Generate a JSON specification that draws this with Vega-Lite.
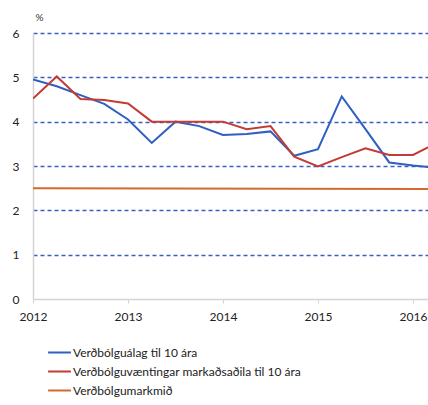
{
  "$schema": "https://vega.github.io/schema/vega-lite/v6.json",
  "autosize": "none",
  "width": 395,
  "height": 266,
  "padding": {"left": 33, "top": 33, "right": 0, "bottom": 106},
  "background": "white",
  "config": {"view": {"stroke": null}, "font": "Lato"},
  "data": {"values": [
    {"t": 2012.0, "s": "Verðbólguálag til 10 ára", "v": 4.95},
    {"t": 2012.25, "s": "Verðbólguálag til 10 ára", "v": 4.8},
    {"t": 2012.5, "s": "Verðbólguálag til 10 ára", "v": 4.6},
    {"t": 2012.75, "s": "Verðbólguálag til 10 ára", "v": 4.4},
    {"t": 2013.0, "s": "Verðbólguálag til 10 ára", "v": 4.05},
    {"t": 2013.25, "s": "Verðbólguálag til 10 ára", "v": 3.52},
    {"t": 2013.5, "s": "Verðbólguálag til 10 ára", "v": 4.0},
    {"t": 2013.75, "s": "Verðbólguálag til 10 ára", "v": 3.9},
    {"t": 2014.0, "s": "Verðbólguálag til 10 ára", "v": 3.7},
    {"t": 2014.25, "s": "Verðbólguálag til 10 ára", "v": 3.72},
    {"t": 2014.5, "s": "Verðbólguálag til 10 ára", "v": 3.78},
    {"t": 2014.75, "s": "Verðbólguálag til 10 ára", "v": 3.23},
    {"t": 2015.0, "s": "Verðbólguálag til 10 ára", "v": 3.38},
    {"t": 2015.25, "s": "Verðbólguálag til 10 ára", "v": 4.57},
    {"t": 2015.5, "s": "Verðbólguálag til 10 ára", "v": 3.83},
    {"t": 2015.75, "s": "Verðbólguálag til 10 ára", "v": 3.08},
    {"t": 2016.0, "s": "Verðbólguálag til 10 ára", "v": 3.01},
    {"t": 2016.25, "s": "Verðbólguálag til 10 ára", "v": 2.96},
    {"t": 2012.0, "s": "Verðbólguvæntingar markaðsaðila til 10 ára", "v": 4.52},
    {"t": 2012.25, "s": "Verðbólguvæntingar markaðsaðila til 10 ára", "v": 5.02},
    {"t": 2012.5, "s": "Verðbólguvæntingar markaðsaðila til 10 ára", "v": 4.51},
    {"t": 2012.75, "s": "Verðbólguvæntingar markaðsaðila til 10 ára", "v": 4.49},
    {"t": 2013.0, "s": "Verðbólguvæntingar markaðsaðila til 10 ára", "v": 4.41},
    {"t": 2013.25, "s": "Verðbólguvæntingar markaðsaðila til 10 ára", "v": 4.0},
    {"t": 2013.5, "s": "Verðbólguvæntingar markaðsaðila til 10 ára", "v": 4.0},
    {"t": 2013.75, "s": "Verðbólguvæntingar markaðsaðila til 10 ára", "v": 4.0},
    {"t": 2014.0, "s": "Verðbólguvæntingar markaðsaðila til 10 ára", "v": 4.0},
    {"t": 2014.25, "s": "Verðbólguvæntingar markaðsaðila til 10 ára", "v": 3.83},
    {"t": 2014.5, "s": "Verðbólguvæntingar markaðsaðila til 10 ára", "v": 3.9},
    {"t": 2014.75, "s": "Verðbólguvæntingar markaðsaðila til 10 ára", "v": 3.21},
    {"t": 2015.0, "s": "Verðbólguvæntingar markaðsaðila til 10 ára", "v": 2.99},
    {"t": 2015.25, "s": "Verðbólguvæntingar markaðsaðila til 10 ára", "v": 3.2},
    {"t": 2015.5, "s": "Verðbólguvæntingar markaðsaðila til 10 ára", "v": 3.4},
    {"t": 2015.75, "s": "Verðbólguvæntingar markaðsaðila til 10 ára", "v": 3.25},
    {"t": 2016.0, "s": "Verðbólguvæntingar markaðsaðila til 10 ára", "v": 3.25},
    {"t": 2016.25, "s": "Verðbólguvæntingar markaðsaðila til 10 ára", "v": 3.52},
    {"t": 2012.0, "s": "Verðbólgumarkmið", "v": 2.5},
    {"t": 2016.25, "s": "Verðbólgumarkmið", "v": 2.48}
  ]},
  "mark": {"type": "line", "clip": true, "strokeWidth": 2},
  "encoding": {
    "x": {
      "field": "t", "type": "quantitative",
      "scale": {"domain": [2012, 2016.158], "nice": false, "zero": false},
      "axis": {
        "values": [2012, 2013, 2014, 2015, 2016],
        "format": "d", "title": null, "grid": false,
        "domainColor": "#d4d4d4", "domainWidth": 1.5,
        "tickColor": "#d4d4d4", "tickSize": 4,
        "labelFontSize": 12, "labelColor": "#222", "labelPadding": 8,
        "labelFlush": false, "labelOverlap": false
      }
    },
    "y": {
      "field": "v", "type": "quantitative",
      "scale": {"domain": [0, 6], "nice": false},
      "axis": {
        "values": [0, 1, 2, 3, 4, 5, 6],
        "title": "%", "titleAngle": 0, "titleX": 2, "titleY": -16,
        "titleAlign": "left", "titleBaseline": "middle",
        "titleFontSize": 10, "titleFontWeight": "normal", "titleColor": "#333",
        "domainColor": "#d4d4d4", "domainWidth": 1.5,
        "ticks": false,
        "labelFontSize": 12, "labelColor": "#222", "labelPadding": 14,
        "grid": true, "gridColor": "#3a5fbf", "gridDash": [4, 3], "gridWidth": 1.3,
        "gridOpacity": {"condition": {"test": "datum.value === 0", "value": 0}, "value": 1}
      }
    },
    "color": {
      "field": "s", "type": "nominal",
      "scale": {
        "domain": ["Verðbólguálag til 10 ára", "Verðbólguvæntingar markaðsaðila til 10 ára", "Verðbólgumarkmið"],
        "range": ["#2e5fc1", "#c23b36", "#d4692c"]
      },
      "legend": {
        "title": null, "orient": "none", "legendX": 14, "legendY": 307,
        "direction": "vertical", "symbolType": "stroke", "symbolSize": 520,
        "symbolStrokeWidth": 2, "labelFontSize": 12, "labelColor": "#222",
        "labelOffset": 1, "rowPadding": -1.3, "labelLimit": 400
      }
    }
  }
}
